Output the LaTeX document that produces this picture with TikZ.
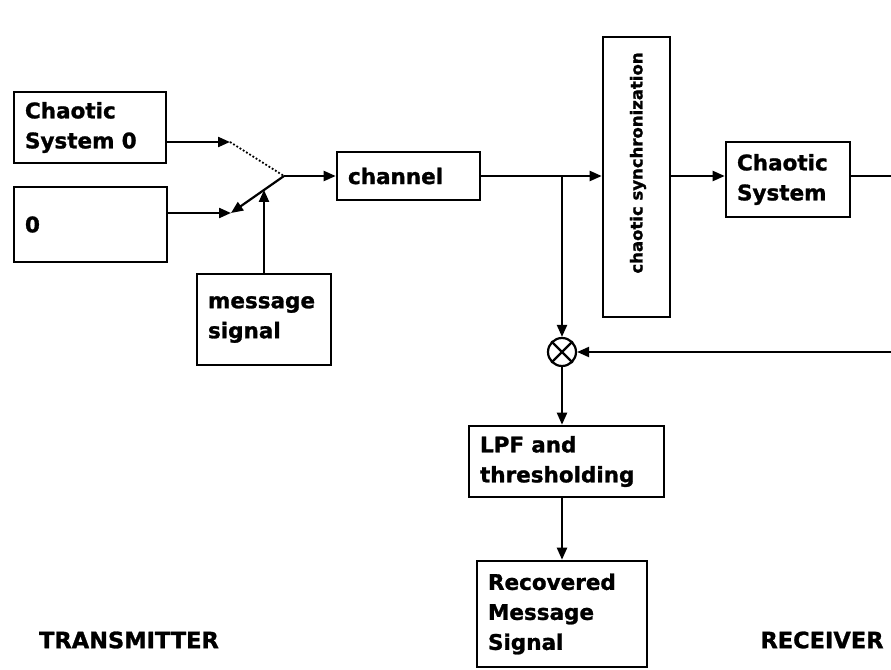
\documentclass[tikz,border=0pt]{standalone}
\usepackage{fontspec}
\newfontfamily\dv{DejaVu Sans}[BoldFeatures={FakeBold=1.2}]
\usetikzlibrary{arrows.meta,calc}
\tikzset{
  blk/.style={draw, line width=2.6pt, rectangle, inner xsep=11pt, inner ysep=0pt,
    align=left, font=\dv\bfseries\fontsize{21.5}{30}\selectfont},
  conn/.style={line width=2.2pt},
  arr/.style={conn, -{Triangle[length=12pt,width=10pt]}},
  lbl/.style={font=\dv\bfseries\fontsize{22.5}{24}\selectfont, inner sep=0pt}
}
\begin{document}
\begin{tikzpicture}[x=1pt,y=-1pt]
\useasboundingbox (0,0) rectangle (891,669);
% boxes
\node[blk, minimum width=152pt, minimum height=71pt, text width=130pt] (cs0) at (90,127.5) {Chaotic\\System 0};
\node[blk, minimum width=153pt, minimum height=75pt, text width=131pt] (zero) at (90.5,224.5) {0};
\node[blk, minimum width=134pt, minimum height=91pt, text width=112pt] (msg) at (264,319.5) {message\\signal};
\node[blk, minimum width=143pt, minimum height=48pt, text width=121pt] (chan) at (408.5,176) {channel};
\node[draw, line width=2.6pt, minimum width=67pt, minimum height=280pt, inner sep=0pt] (sync) at (636.5,177) {};
\node[rotate=90, font=\dv\bfseries\fontsize{16.5}{20}\selectfont, inner sep=0pt] (synct) at (638,163) {chaotic synchronization};
\node[blk, minimum width=124pt, minimum height=75pt, text width=102pt] (csys) at (788,179.5) {Chaotic\\System};
\node[draw, circle, line width=2.2pt, minimum size=28pt, inner sep=0pt] (mult) at (562,352) {};
\draw[conn] (mult.north west) -- (mult.south east);
\draw[conn] (mult.north east) -- (mult.south west);
\node[blk, minimum width=195pt, minimum height=71pt, text width=173pt] (lpf) at (566.5,461.5) {LPF and\\thresholding};
\node[blk, minimum width=170pt, minimum height=106pt, text width=148pt] (rec) at (562,614) {Recovered\\Message\\Signal};
\node[lbl] (tx) at (129,640) {TRANSMITTER};
\node[lbl] (rx) at (822,640) {RECEIVER};
% switch
\coordinate (U) at (230,142);
\coordinate (L) at (231,213);
\coordinate (P) at (284,176);
\coordinate (A) at ($(P)!0.377!(L)$);
\coordinate (J) at (562,176);
\coordinate (R1) at (891,176);
\coordinate (R2) at (891,352);
\draw[arr] (cs0.east |- U) -- (U);
\draw[arr] (zero.east |- L) -- (L);
\draw[line width=1.8pt, dotted] (U) -- (P);
\draw[arr] (P) -- (L);
\draw[arr] (msg.north) -- (msg.north |- A);
\draw[arr] (P) -- (chan.west);
\draw[arr] (chan.east) -- (chan.east -| sync.west);
\draw[arr] (J -| sync.east) -- (J -| csys.west);
\draw[conn] (J -| csys.east) -- (R1);
\draw[arr] (R2) -- (mult.east);
\draw[arr] (J) -- (mult.north);
\draw[arr] (mult.south) -- (mult.south |- lpf.north);
\draw[arr] (rec.north |- lpf.south) -- (rec.north);
\end{tikzpicture}
\end{document}
